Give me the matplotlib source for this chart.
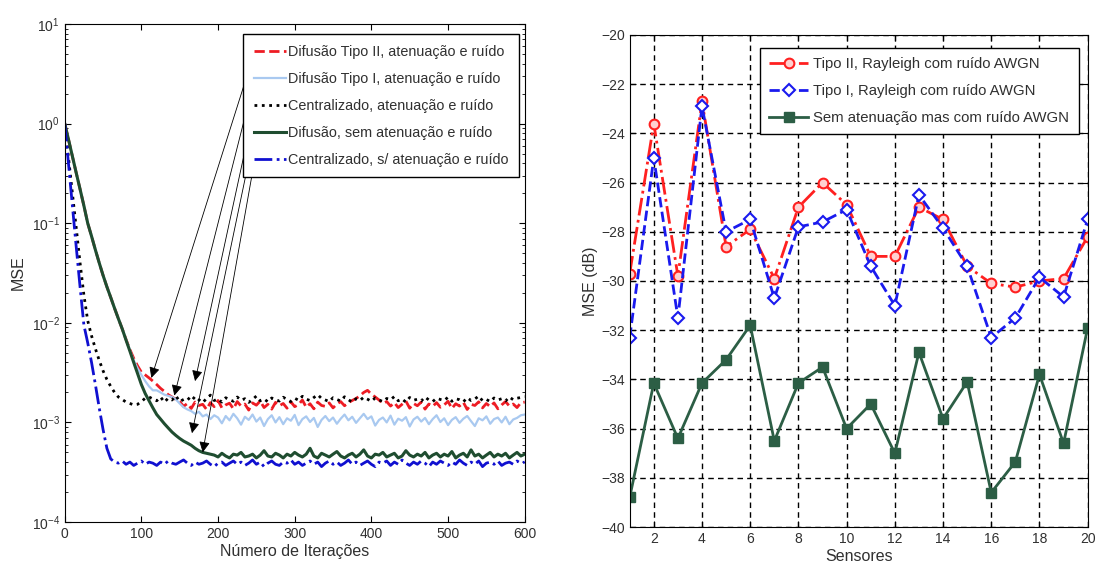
import numpy as np
import matplotlib
matplotlib.use("Agg")
import matplotlib.pyplot as plt

plt.rcParams['font.family'] = ['Liberation Sans', 'DejaVu Sans']

# ---------------- left panel: MSE x iterations (values in units of 1e-3) ----------------
iters = np.arange(0, 601, 5)

mse_tipo2 = [1000, 690, 470, 320, 220, 150, 100, 74, 54, 40, 30, 23, 18, 14, 11, 8.7, 6.8, 5.4, 4.4, 3.7,
             3.2, 3.0, 2.8, 2.6, 2.4, 2.2, 2.05, 1.9, 1.8, 1.7,
             1.62, 1.45, 1.55, 1.38, 1.60, 1.48, 1.52, 1.35, 1.58, 1.44,
             1.66, 1.40, 1.50, 1.56, 1.37, 1.62, 1.46, 1.53, 1.33, 1.57,
             1.49, 1.64, 1.41, 1.52, 1.36, 1.59, 1.47, 1.55, 1.39, 1.61,
             1.44, 1.51, 1.68, 1.42, 1.54, 1.37, 1.60, 1.48, 1.45, 1.57,
             1.40, 1.53, 1.62, 1.47, 1.58, 1.66, 1.74, 1.85, 2.00, 2.10,
             1.92, 1.80, 1.68, 1.55, 1.62, 1.46, 1.58, 1.41, 1.52, 1.64,
             1.39, 1.55, 1.47, 1.60, 1.36, 1.53, 1.45, 1.58, 1.42, 1.50,
             1.63, 1.38, 1.54, 1.46, 1.59, 1.35, 1.52, 1.48, 1.61, 1.40,
             1.55, 1.44, 1.57, 1.37, 1.50, 1.62, 1.46, 1.53, 1.41, 1.58,
             1.60]

mse_tipo1 = [1000, 690, 470, 320, 220, 150, 100, 74, 54, 40, 30, 23, 18, 14, 11, 8.7, 6.8, 5.3, 4.2, 3.5,
             3.0, 2.6, 2.3, 2.1, 2.1, 2.0, 1.9, 1.85, 1.8, 1.7,
             1.55, 1.42, 1.35, 1.30, 1.22, 1.28, 1.15, 1.20, 1.08, 1.18,
             1.12, 0.98, 1.16, 1.05, 1.22, 1.10, 0.95, 1.14, 1.06, 1.20,
             1.02, 1.12, 0.92, 1.08, 1.18, 1.00, 1.13, 0.96, 1.10, 1.04,
             1.19, 0.94, 1.08, 1.15, 1.01, 1.11, 0.90, 1.06, 1.16, 1.03,
             1.12, 0.97, 1.09, 1.20, 1.05, 1.14, 0.99, 1.10, 1.22, 1.08,
             1.15, 0.93, 1.06, 1.12, 1.00, 1.17, 0.95, 1.09, 1.04, 1.13,
             0.91, 1.07, 1.14, 1.02, 1.11, 0.96, 1.08, 1.18, 1.01, 1.10,
             0.94, 1.06, 1.13, 0.99, 1.09, 1.16, 1.03, 0.92, 1.10, 1.05,
             1.15, 0.97, 1.08, 1.12, 1.00, 1.14, 0.96, 1.07, 1.11, 1.18,
             1.20]

mse_central = [1000, 450, 200, 90, 40, 19, 10.5, 7.4, 5.5, 4.2, 3.3, 2.7, 2.3, 2.0, 1.8, 1.7, 1.6, 1.55,
               1.5, 1.52, 1.62, 1.75, 1.8,
               1.72, 1.65, 1.80, 1.60, 1.75, 1.68, 1.85, 1.62, 1.70, 1.78,
               1.64, 1.82, 1.69, 1.58, 1.74, 1.88, 1.66, 1.71, 1.60, 1.77,
               1.69, 1.63, 1.80, 1.67, 1.73, 1.59, 1.70, 1.84, 1.65, 1.72,
               1.61, 1.76, 1.68, 1.64, 1.79, 1.70, 1.62, 1.75, 1.67, 1.83,
               1.71, 1.66, 1.78, 1.90, 1.74, 1.68, 1.62, 1.77, 1.70, 1.64,
               1.81, 1.69, 1.60, 1.73, 1.66, 1.79, 1.71, 1.63, 1.76, 1.68,
               1.62, 1.74, 1.69, 1.82, 1.65, 1.72, 1.60, 1.78, 1.67, 1.71,
               1.64, 1.80, 1.68, 1.62, 1.75, 1.70, 1.66, 1.79, 1.63, 1.73,
               1.69, 1.61, 1.77, 1.66, 1.72, 1.84, 1.65, 1.70, 1.62, 1.76,
               1.68, 1.73, 1.64, 1.80, 1.69, 1.75, 1.78, 1.82]

mse_difusao = [1000, 690, 470, 320, 220, 150, 100, 74, 54, 40, 30, 23, 18, 14, 11, 8.7, 6.7, 5.2, 4.0, 3.1,
               2.4, 1.95, 1.65, 1.4, 1.2, 1.08, 0.97, 0.88, 0.80, 0.74, 0.69, 0.65, 0.62, 0.59, 0.55,
               0.52, 0.50, 0.49, 0.48,
               0.47, 0.45, 0.49, 0.46, 0.44, 0.48, 0.47, 0.50, 0.45, 0.46,
               0.48, 0.44, 0.47, 0.52, 0.46, 0.45, 0.49, 0.47, 0.44, 0.48,
               0.46, 0.50, 0.47, 0.45, 0.48, 0.55, 0.46, 0.44, 0.49, 0.47,
               0.45, 0.48, 0.51, 0.46, 0.44, 0.47, 0.49, 0.45, 0.48, 0.53,
               0.46, 0.44, 0.48, 0.47, 0.50, 0.45, 0.47, 0.49, 0.44, 0.46,
               0.52, 0.47, 0.45, 0.48, 0.46, 0.50, 0.44, 0.47, 0.49, 0.45,
               0.48, 0.46, 0.51, 0.44, 0.47, 0.49, 0.45, 0.53, 0.46, 0.48,
               0.44, 0.47, 0.50, 0.45, 0.48, 0.46, 0.49, 0.44, 0.47, 0.50,
               0.46, 0.48]

mse_central_ideal = [1000, 390, 150, 58, 23, 9.5, 6.3, 4.0, 2.4, 1.4, 0.85, 0.55, 0.43,
                     0.40, 0.39, 0.41, 0.38, 0.40, 0.37, 0.39, 0.41, 0.38, 0.40,
                     0.39, 0.37, 0.40, 0.38, 0.41, 0.39, 0.38, 0.40, 0.42, 0.39,
                     0.37, 0.40, 0.38, 0.39, 0.41, 0.38, 0.36, 0.39, 0.40, 0.37,
                     0.39, 0.41, 0.38, 0.40, 0.37, 0.39, 0.42, 0.38, 0.40, 0.36,
                     0.39, 0.41, 0.38, 0.37, 0.40, 0.39, 0.42, 0.38, 0.40, 0.37,
                     0.39, 0.41, 0.38, 0.40, 0.36, 0.39, 0.41, 0.38, 0.40, 0.37,
                     0.39, 0.42, 0.38, 0.40, 0.37, 0.39, 0.41, 0.38, 0.36, 0.40,
                     0.39, 0.41, 0.37, 0.40, 0.38, 0.42, 0.39, 0.37, 0.40, 0.38,
                     0.41, 0.39, 0.36, 0.40, 0.38, 0.41, 0.39, 0.37, 0.40, 0.38,
                     0.42, 0.39, 0.37, 0.40, 0.38, 0.41, 0.36, 0.39, 0.40, 0.38,
                     0.41, 0.37, 0.39, 0.40, 0.38, 0.41, 0.39, 0.40]

left_labels = ['Difusão Tipo II, atenuação e ruído',
               'Difusão Tipo I, atenuação e ruído',
               'Centralizado, atenuação e ruído',
               'Difusão, sem atenuação e ruído',
               'Centralizado, s/ atenuação e ruído']

# arrow tips (iteration, MSE) for each legend entry
arrow_iters = [113, 143, 170, 166, 180]
arrow_mse = [2.8e-3, 1.86e-3, 2.6e-3, 7.8e-4, 5.0e-4]

# ---------------- right panel: MSE (dB) per sensor ----------------
sensores = np.arange(1, 21)
tipo2_db = [-29.7, -23.6, -29.8, -22.7, -28.6, -27.9, -29.9, -27.0, -26.0, -26.9,
            -29.0, -29.0, -27.0, -27.5, -29.4, -30.1, -30.25, -30.0, -29.9, -28.2]
tipo1_db = [-32.3, -25.0, -31.5, -22.9, -28.0, -27.5, -30.7, -27.8, -27.6, -27.1,
            -29.4, -31.0, -26.5, -27.85, -29.4, -32.3, -31.5, -29.85, -30.65, -27.5]
sem_aten_db = [-38.8, -34.15, -36.4, -34.15, -33.2, -31.8, -36.5, -34.15, -33.5, -36.0,
               -35.0, -37.0, -32.9, -35.6, -34.1, -38.6, -37.35, -33.8, -36.6, -31.9]
right_labels = ['Tipo II, Rayleigh com ruído AWGN',
                'Tipo I, Rayleigh com ruído AWGN',
                'Sem atenuação mas com ruído AWGN']

txt_color = '#303030'

fig = plt.figure(figsize=(10.97, 5.79), dpi=100)

# ----- left -----
ax1 = fig.add_axes([0.059, 0.0984, 0.4193, 0.8601])
styles = [dict(color='#ee1c24', ls='--', lw=2.0),
          dict(color='#a9c9f0', ls='-', lw=1.6),
          dict(color='black', ls=':', lw=2.0),
          dict(color='#1f4d30', ls='-', lw=2.2),
          dict(color='#1010d0', ls='-.', lw=2.0)]
series = [mse_tipo2, mse_tipo1, mse_central, mse_difusao, mse_central_ideal]
for s, st, lab in zip(series, styles, left_labels):
    ax1.plot(iters, np.array(s) * 1e-3, label=lab, **st)

ax1.set_yscale('log')
ax1.set_xlim(0, 600)
ax1.set_ylim(1e-4, 1e1)
ax1.set_xticks(np.arange(0, 601, 100))
ax1.set_xlabel('Número de Iterações', fontsize=11.5, color=txt_color, labelpad=2)
ax1.set_ylabel('MSE', fontsize=11.5, color=txt_color, labelpad=4)
ax1.tick_params(which='both', direction='in', top=True, right=True, labelsize=10,
                labelcolor=txt_color)
ax1.tick_params(which='major', length=4)
ax1.tick_params(which='minor', length=2)

leg1 = ax1.legend(loc='upper right', bbox_to_anchor=(0.987, 0.979), fontsize=10.4,
                  frameon=True, fancybox=False, framealpha=1, edgecolor='black',
                  handlelength=2.2, handletextpad=0.15, borderaxespad=0, labelspacing=0.9,
                  borderpad=0.72)
leg1.get_frame().set_linewidth(1.0)
for t in leg1.get_texts():
    t.set_color(txt_color)

# ----- right -----
ax2 = fig.add_axes([0.574, 0.0898, 0.4175, 0.8498])
ax2.plot(sensores, tipo2_db, color='#ff2020', ls='-.', lw=2.0, marker='o', ms=7,
         mfc='#ffd0d0', mec='#ff2020', mew=1.5, label=right_labels[0])
ax2.plot(sensores, tipo1_db, color='#1a1aee', ls='--', lw=2.0, marker='D', ms=6,
         mfc='white', mec='#1a1aee', mew=1.5, label=right_labels[1])
ax2.plot(sensores, sem_aten_db, color='#2c5e45', ls='-', lw=2.0, marker='s', ms=7,
         mfc='#2c5e45', mec='#2c5e45', label=right_labels[2])
ax2.set_xlim(1, 20)
ax2.set_ylim(-40, -20)
ax2.set_xticks(np.arange(2, 21, 2))
ax2.set_yticks(np.arange(-40, -19, 2))
ax2.grid(True, color='black', ls=(0, (4, 3)), lw=1.0)
ax2.set_xlabel('Sensores', fontsize=11.5, color=txt_color, labelpad=2)
ax2.set_ylabel('MSE (dB)', fontsize=11.5, color=txt_color, labelpad=2)
ax2.tick_params(direction='in', top=True, right=True, length=4, labelsize=10,
                labelcolor=txt_color)

leg2 = ax2.legend(loc='upper right', bbox_to_anchor=(0.98, 0.974), fontsize=10.7,
                  frameon=True, fancybox=False, framealpha=1, edgecolor='black',
                  handlelength=2.6, handletextpad=0.35, borderaxespad=0, labelspacing=0.88,
                  borderpad=0.62)
leg2.get_frame().set_linewidth(1.0)
for t in leg2.get_texts():
    t.set_color(txt_color)

# arrows from the left legend entries to their curves
fig.canvas.draw()
renderer = fig.canvas.get_renderer()
for line, xi, yi in zip(leg1.get_lines(), arrow_iters, arrow_mse):
    bb = line.get_window_extent(renderer)
    ax1.annotate('', xy=(xi, yi), xycoords='data',
                 xytext=(bb.x0 + 1, (bb.y0 + bb.y1) / 2), textcoords='figure pixels',
                 arrowprops=dict(arrowstyle='-|>', color='black', lw=0.6,
                                 mutation_scale=16, shrinkA=0, shrinkB=0))

fig.savefig('out.png', dpi=100, facecolor='white')
